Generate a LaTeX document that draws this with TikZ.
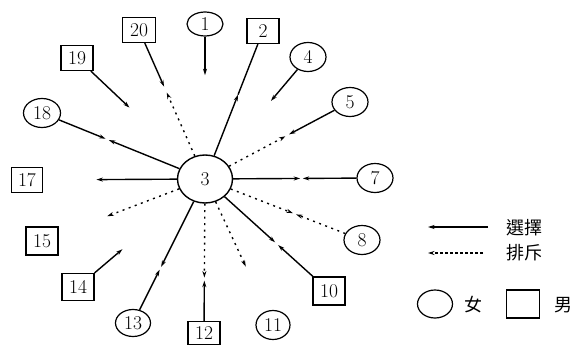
\documentclass[tikz,border=0pt]{standalone}
\usepackage{fontspec}
\newfontfamily\cjk{Noto Sans CJK TC}
\usetikzlibrary{arrows.meta, calc, shapes.geometric}
\tikzset{>={Stealth[length=6.5pt,width=4pt]},
    girl/.style={ellipse,draw,line width=1.2pt,minimum width=36pt,minimum height=29pt,inner sep=0pt},
    boy/.style={rectangle,draw,line width=1.2pt,minimum width=32pt,minimum height=25pt,inner sep=0pt},
    hub/.style={ellipse,draw,minimum width=55pt,minimum height=48pt,inner sep=0pt},
    choose/.style={->},
    reject/.style={->,dash pattern=on 2pt off 4.5pt},
    legline/.style={->,dash pattern=on 3pt off 2pt},
    textnode/.style={font=\cjk\fontsize{18}{18}\selectfont}}
\begin{document}
\begin{tikzpicture}[x=1pt,y=-1pt,line width=1.4pt,font=\fontsize{19.5}{20}\selectfont]
\useasboundingbox (0,0) rectangle (575,345);
% members
\node[hub]  (n3)  at (205,179) {3};
\node[girl,minimum height=24pt] (n1) at (205,24) {1};
\node[boy]  (n2)  at (263,31)  {2};
\node[girl] (n4)  at (308,57)  {4};
\node[girl] (n5)  at (350,102) {5};
\node[girl] (n7)  at (375,178) {7};
\node[girl] (n8)  at (362,240) {8};
\node[boy,minimum height=28pt]  (n10) at (329,291) {10};
\node[girl,minimum width=34pt] (n11) at (273,325) {11};
\node[boy,minimum height=23pt]  (n12) at (204,333) {12};
\node[girl,minimum width=35pt,minimum height=27pt] (n13) at (133,323) {13};
\node[boy,minimum height=27pt]  (n14) at (78,287)  {14};
\node[boy,minimum height=28pt]  (n15) at (42,241)  {15};
\node[boy,minimum width=31pt]   (n17) at (27,180)  {17};
\node[girl,minimum width=37pt] (n18) at (42,113)  {18};
\node[boy]  (n19) at (77,58)   {19};
\node[boy,minimum width=33pt]  (n20) at (139,30)  {20};

% half-way points
\coordinate (a1)  at ($(n1)!.33!(n3)$);
\coordinate (a2)  at ($(n3)!.57!(n2)$);
\coordinate (a20) at ($(n20)!.38!(n3)$);
\coordinate (b20) at ($(n3)!.58!(n20)$);
\coordinate (a4)  at ($(n4)!.36!(n3)$);
\coordinate (a5)  at ($(n5)!.42!(n3)$);
\coordinate (b5)  at ($(n3)!.555!(n5)$);
\coordinate (a7)  at ($(n7)!.425!(n3)$);
\coordinate (b7)  at ($(n3)!.56!(n7)$);
\coordinate (a8)  at ($(n8)!.42!(n3)$);
\coordinate (b8)  at ($(n3)!.56!(n8)$);
\coordinate (a10) at ($(n10)!.41!(n3)$);
\coordinate (b10) at ($(n3)!.565!(n10)$);
\coordinate (b11) at ($(n3)!.6!(n11)$);
\coordinate (a12) at ($(n12)!.34!(n3)$);
\coordinate (b12) at ($(n3)!.64!(n12)$);
\coordinate (a13) at ($(n13)!.37!(n3)$);
\coordinate (b13) at ($(n3)!.61!(n13)$);
\coordinate (a14) at ($(n14)!.35!(n3)$);
\coordinate (b15) at ($(n3)!.6!(n15)$);
\coordinate (b17) at ($(n3)!.61!(n17)$);
\coordinate (a18) at ($(n18)!.39!(n3)$);
\coordinate (b18) at ($(n3)!.59!(n18)$);
\coordinate (a19) at ($(n19)!.41!(n3)$);

% choices and rejections
\draw[choose] (n1) -- (a1);
\draw (n2) -- (a2);
\draw[choose] (n3) -- (a2);
\draw[choose] (n20) -- (a20);
\draw[reject] (n3) -- (b20);
\draw[choose] (n4) -- (a4);
\draw[choose] (n5) -- (a5);
\draw[reject] (n3) -- (b5);
\draw[choose] (n7) -- (a7);
\draw[choose] (n3) -- (b7);
\draw[reject] (n8) -- (a8);
\draw[reject] (n3) -- (b8);
\draw[choose] (n10) -- (a10);
\draw[choose] (n3) -- (b10);
\draw[reject] (n3) -- (b11);
\draw[choose] (n12) -- (a12);
\draw[reject] (n3) -- (b12);
\draw[choose] (n13) -- (a13);
\draw[choose] (n3) -- (b13);
\draw[choose] (n14) -- (a14);
\draw[reject] (n3) -- (b15);
\draw[choose] (n3) -- (b17);
\draw[choose] (n18) -- (a18);
\draw[choose] (n3) -- (b18);
\draw[choose] (n19) -- (a19);

% legend
\coordinate (l1s) at (488,227);
\coordinate (l1e) at (428,227);
\coordinate (l2s) at (483,253);
\coordinate (l2e) at (428,253);
\draw[choose] (l1s) -- (l1e);
\draw[legline] (l2s) -- (l2e);
\node[textnode] (sel) at (524,228) {選擇};
\node[textnode] (rej) at (524,253) {排斥};
\node[girl,minimum width=35pt,minimum height=28pt] (fem) at (435,304) {};
\node[textnode] (femt) at (473,305) {女};
\node[boy,minimum width=33pt,minimum height=28pt] (mal) at (523,304) {};
\node[textnode] (malt) at (563,305) {男};
\end{tikzpicture}
\end{document}
